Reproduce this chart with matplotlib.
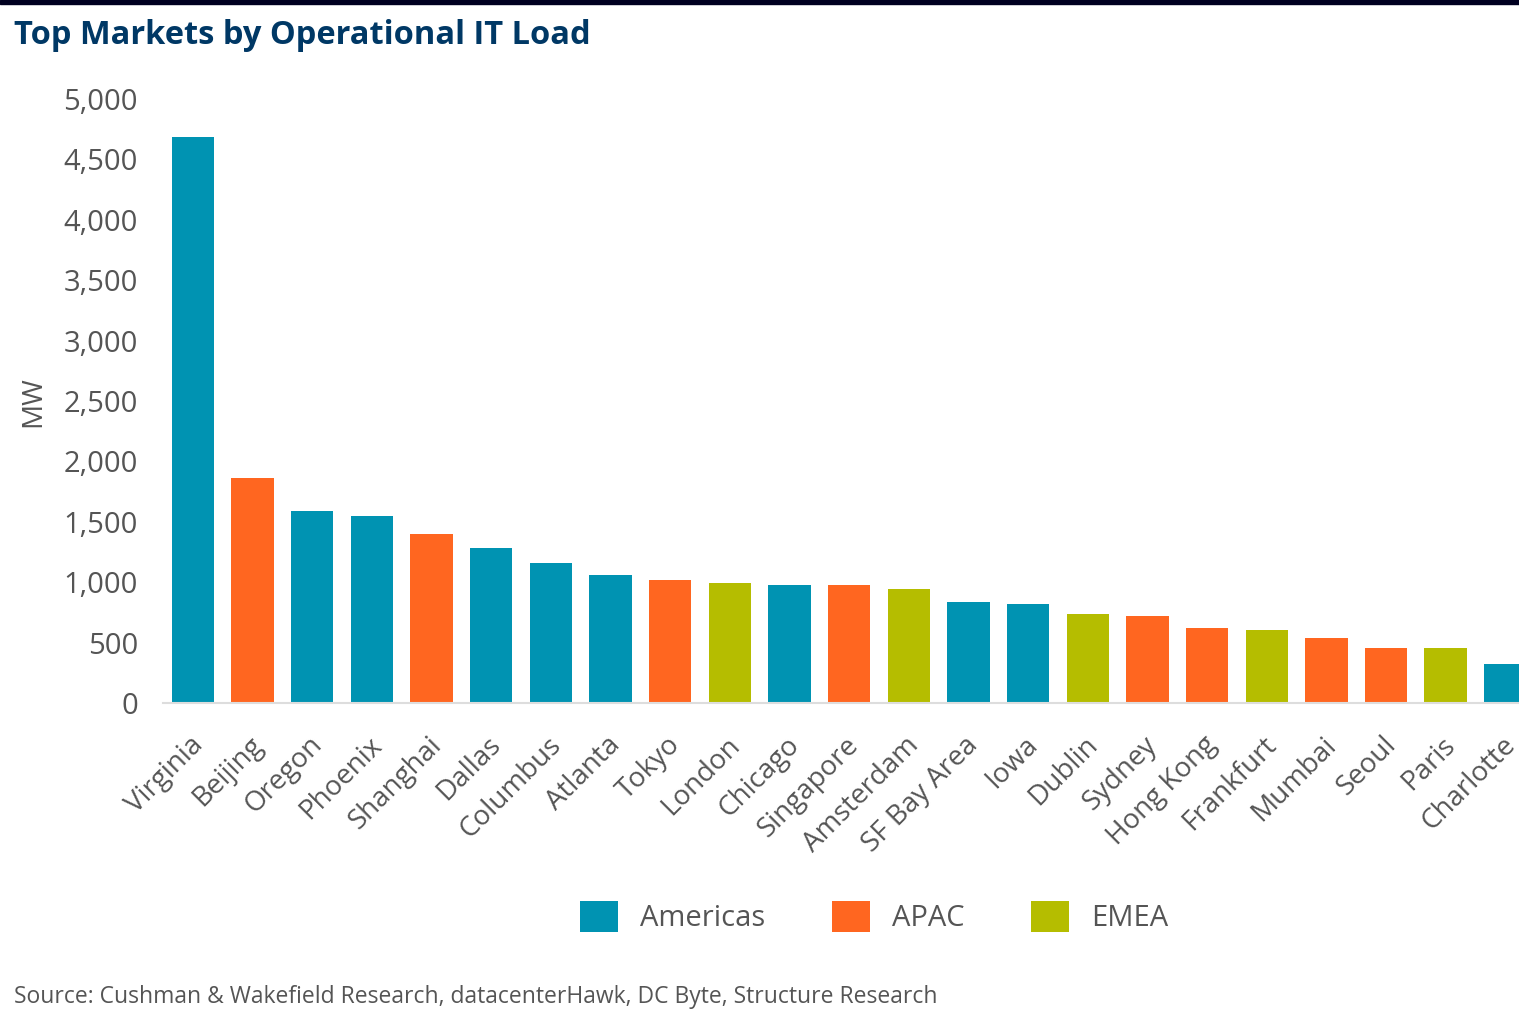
import matplotlib
matplotlib.use("Agg")
import matplotlib.pyplot as plt
import matplotlib.transforms as mtransforms
from matplotlib.patches import Patch, Rectangle

plt.rcParams['font.family'] = ['Open Sans', 'DejaVu Sans']

markets = ["Virginia", "Beijing", "Oregon", "Phoenix", "Shanghai", "Dallas", "Columbus",
           "Atlanta", "Tokyo", "London", "Chicago", "Singapore", "Amsterdam", "SF Bay Area",
           "Iowa", "Dublin", "Sydney", "Hong Kong", "Frankfurt", "Mumbai", "Seoul", "Paris",
           "Charlotte"]
load_mw = [4685, 1865, 1590, 1548, 1400, 1283, 1160, 1060, 1018, 993, 977, 977, 945, 836,
           820, 737, 720, 622, 604, 538, 455, 455, 323]
regions = ["Americas", "APAC", "Americas", "Americas", "APAC", "Americas", "Americas",
           "Americas", "APAC", "EMEA", "Americas", "APAC", "EMEA", "Americas",
           "Americas", "EMEA", "APAC", "APAC", "EMEA", "APAC", "APAC", "EMEA", "Americas"]
region_names = ["Americas", "APAC", "EMEA"]
colors = {"Americas": "#0093B2", "APAC": "#FF6620", "EMEA": "#B5BD00"}

grey = "#555555"

fig = plt.figure(figsize=(15.19, 10.17), dpi=100)
ax = fig.add_axes([163 / 1519, 1 - 703 / 1017, 1 - 163 / 1519, (703 - 99) / 1017])

xs = list(range(len(markets)))
ax.bar(xs, load_mw, width=0.71, color=[colors[r] for r in regions], zorder=2)

ax.set_ylim(0, 5000)
ax.set_xlim(-0.503, 22.23)
ax.set_yticks(range(0, 5001, 500))
ax.set_yticklabels([f"{v:,}" for v in range(0, 5001, 500)], fontsize=21, color=grey)
ax.set_xticks(xs)
ax.set_xticklabels([])
ax.tick_params(axis="both", length=0)
ax.tick_params(axis="y", pad=18)
for side in ["top", "right", "left"]:
    ax.spines[side].set_visible(False)
ax.spines["bottom"].set_color("#dddddd")
ax.spines["bottom"].set_linewidth(1.5)

# rotated category labels, anchored at their top-right end just below each bar
label_tr = ax.get_xaxis_transform() + mtransforms.ScaledTranslation(
    -4 / 100, -28 / 100, fig.dpi_scale_trans)
for x, name in zip(xs, markets):
    ax.text(x, 0, name, transform=label_tr, rotation=45, rotation_mode="anchor",
            ha="right", va="top", fontsize=20, color=grey, clip_on=False)

fig.text(33 / 1519, 1 - 402 / 1017, "MW", rotation=90, fontsize=20, color=grey,
         ha="center", va="center")

fig.text(14 / 1519, 1 - 36 / 1017, "Top Markets by Operational IT Load", fontsize=23.5,
         fontweight="bold", color="#003865", ha="left", va="center")

fig.text(14 / 1519, 1 - 997 / 1017,
         "Source: Cushman & Wakefield Research, datacenterHawk, DC Byte, Structure Research",
         fontsize=16.5, color=grey, ha="left", va="center")

fig.patches.append(Rectangle((0, 1 - 4 / 1017), 1, 4 / 1017, transform=fig.transFigure,
                             color="#000020", zorder=5))

handles = [Patch(facecolor=colors[r], label=r) for r in region_names]
fig.legend(handles=handles, loc="center", bbox_to_anchor=(874 / 1519, 1 - 917 / 1017),
           ncol=3, frameon=False, fontsize=21, handlelength=1.3, handleheight=1.3,
           columnspacing=2.3, handletextpad=0.75, labelcolor=grey)

fig.savefig("out.png", dpi=100)
